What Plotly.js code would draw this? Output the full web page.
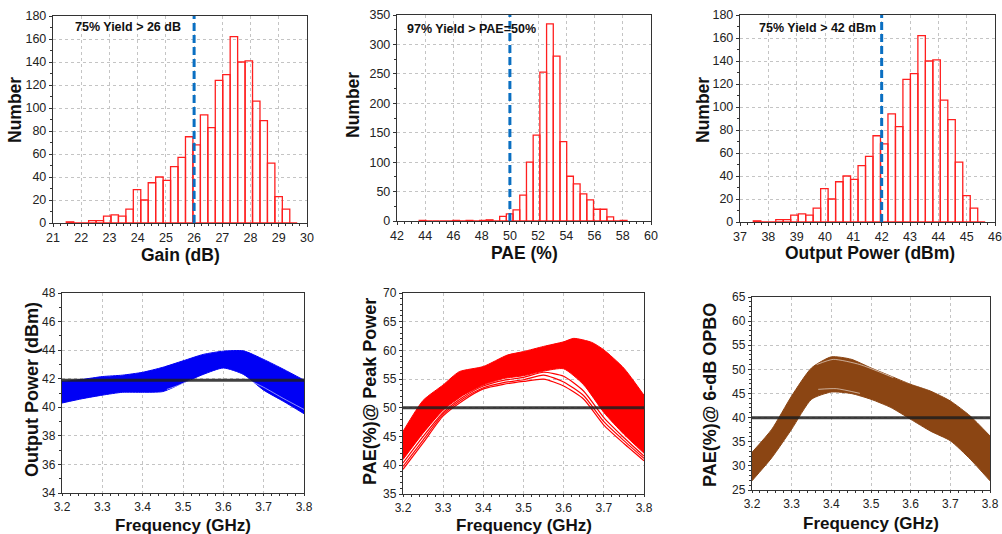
<!DOCTYPE html>
<html><head><meta charset="utf-8">
<script src="https://cdn.plot.ly/plotly-3.0.1.min.js"></script>
<style>html,body{margin:0;padding:0;background:#fff}#chart{width:1002px;height:534px}</style>
</head><body><div id="chart"></div>
<script>
// ---------- Histogram data ----------
const gainBinStart = 21.47;
const gainBinWidth = 0.264;
const gainCounts = [1,0,0,2,2,6,7,6,12,29,20,35,40,37,49,57,75,68,94,83,124,129,162,140,141,106,89,52,23,12,0];

const paeBinStart = 43.575;
const paeBinWidth = 0.475;
const paeCounts = [1,0,0,0,0,1,0,1,0,1,2,0,8,12,19,44,100,146,253,335,280,135,76,63,46,36,20,20,7,0,1];

const poutBinStart = 37.47;
const poutBinWidth = 0.264;
const poutCounts = [1,0,0,2,2,6,7,6,12,29,20,35,40,37,49,57,75,68,94,83,124,129,162,140,141,106,89,52,23,12,0];

const yieldLimits = [26, 50, 42];
const yieldLabels = ['75% Yield > 26 dB', '97% Yield > PAE=50%', '75% Yield > 42 dBm'];

// axis titles
const xTitles = ['Gain (dB)', 'PAE (%)', 'Output Power (dBm)', 'Frequency (GHz)', 'Frequency (GHz)', 'Frequency (GHz)'];
const yTitles = ['Number', 'Number', 'Number', 'Output Power (dBm)', 'PAE(%)@ Peak Power', 'PAE(%)@ 6-dB OPBO'];

// ---------- Frequency sweep data ----------
const freq = [3.2,3.25,3.3,3.35,3.4,3.45,3.5,3.55,3.6,3.65,3.7,3.75,3.8];

const poutUpper = [41.8,41.95,42.15,42.25,42.45,42.8,43.25,43.7,43.93,43.95,43.35,42.65,41.9];
const poutLower = [40.3,40.6,40.85,41.05,41.05,41.1,41.7,42.3,42.75,42.3,41.2,40.4,39.55];
const poutStreakAFreq = [3.46,3.49,3.52];
const poutStreakA = [41.25,41.55,41.95];
const poutStreakBFreq = [3.64,3.7,3.75,3.8];
const poutStreakB = [42.2,41.4,40.6,39.85];

const paeUpperFreq = [3.2,3.25,3.3,3.34,3.4,3.46,3.5,3.55,3.6,3.625,3.67,3.7,3.75,3.8];
const paeUpper = [45.9,51.3,54.0,56.3,57.2,59.2,59.8,60.7,61.5,62.1,61.4,60.1,56.9,52.2];
const paeMainLower = [41.0,45.6,49.6,52.2,54.0,55.1,55.6,56.4,56.8,54.0,49.2,45.4,42.1];
const paeOutlier1 = [39.3,43.9,48.6,51.3,53.3,54.1,54.6,55.0,53.8,51.5,47.0,43.8,40.8];
const paeOutlier2 = [39.8,44.4,48.9,51.6,53.5,54.4,54.9,55.7,54.5,52.1,47.6,44.3,41.2];
const paeOutlier3 = [40.4,45.0,49.2,51.9,53.8,54.8,55.3,56.2,55.5,52.9,48.3,44.8,41.6];

const opboUpper = [32.8,37.6,44.5,50.3,52.6,52.1,50.3,48.6,46.9,45.5,43.45,40.35,36.2];
const opboLower = [26.9,31.7,37.6,43.8,45.3,45.0,43.8,42.1,39.65,37.2,35.2,31.4,26.9];
const opboStreakAFreq = [3.363,3.405,3.472,3.556];
const opboStreakA = [51.0,52.07,51.0,48.3];
const opboStreakBFreq = [3.367,3.413,3.472];
const opboStreakB = [45.86,46.0,45.03];

const refLevels = [41.9, 50, 40];

// ---------- Build traces ----------
const HIST_RED = '#ff1f1f';
function histTrace(start, width, counts, xa, ya) {
  return {
    type: 'bar', xaxis: xa, yaxis: ya,
    x: counts.map((_, i) => start + (i + 0.5) * width),
    y: counts,
    width: counts.map(() => width),
    marker: {color: 'rgba(0,0,0,0)', line: {color: HIST_RED, width: 1.3}},
    hoverinfo: 'skip', showlegend: false
  };
}
function yieldLine(lim, ymax, xa, ya) {
  return {type: 'scatter', mode: 'lines', xaxis: xa, yaxis: ya,
    x: [lim, lim], y: [0, ymax],
    line: {color: '#0a6fc2', width: 3, dash: '8px,4px'}, hoverinfo: 'skip', showlegend: false};
}
function band(xl, lower, xu, upper, color, xa, ya) {
  return [
    {type: 'scatter', mode: 'lines', xaxis: xa, yaxis: ya, x: xl, y: lower,
      line: {color: color, width: 1, shape: 'spline', smoothing: 0.6}, hoverinfo: 'skip', showlegend: false},
    {type: 'scatter', mode: 'lines', xaxis: xa, yaxis: ya, x: xu, y: upper, fill: 'tonexty', fillcolor: color,
      line: {color: color, width: 1, shape: 'spline', smoothing: 0.6}, hoverinfo: 'skip', showlegend: false}
  ];
}
function curve(x, y, color, w, op, xa, ya) {
  return {type: 'scatter', mode: 'lines', xaxis: xa, yaxis: ya, x: x, y: y, opacity: op,
    line: {color: color, width: w, shape: 'spline', smoothing: 0.6}, hoverinfo: 'skip', showlegend: false};
}
function refLine(level, xa, ya) {
  return {type: 'scatter', mode: 'lines', xaxis: xa, yaxis: ya,
    x: [freq[0], freq[freq.length - 1]], y: [level, level],
    line: {color: 'rgba(30,30,30,0.85)', width: 3}, hoverinfo: 'skip', showlegend: false};
}

const BLUE = '#0000f5', RED = '#ff0000', BROWN = '#8b4513';
const traces = [
  histTrace(gainBinStart, gainBinWidth, gainCounts, 'x', 'y'),
  yieldLine(yieldLimits[0], 180, 'x', 'y'),
  histTrace(paeBinStart, paeBinWidth, paeCounts, 'x2', 'y2'),
  yieldLine(yieldLimits[1], 350, 'x2', 'y2'),
  histTrace(poutBinStart, poutBinWidth, poutCounts, 'x3', 'y3'),
  yieldLine(yieldLimits[2], 180, 'x3', 'y3'),

  ...band(freq, poutLower, freq, poutUpper, BLUE, 'x4', 'y4'),
  curve(poutStreakAFreq, poutStreakA, '#ffffff', 0.8, 0.7, 'x4', 'y4'),
  curve(poutStreakBFreq, poutStreakB, '#ffffff', 0.8, 0.7, 'x4', 'y4'),
  refLine(refLevels[0], 'x4', 'y4'),

  ...band(freq, paeMainLower, paeUpperFreq, paeUpper, RED, 'x5', 'y5'),
  curve(freq, paeOutlier1, RED, 1.2, 1, 'x5', 'y5'),
  curve(freq, paeOutlier2, RED, 1.2, 1, 'x5', 'y5'),
  curve(freq, paeOutlier3, RED, 1.2, 1, 'x5', 'y5'),
  refLine(refLevels[1], 'x5', 'y5'),

  ...band(freq, opboLower, freq, opboUpper, BROWN, 'x6', 'y6'),
  curve(opboStreakAFreq, opboStreakA, '#ffffff', 0.8, 0.7, 'x6', 'y6'),
  curve(opboStreakBFreq, opboStreakB, '#ffffff', 0.8, 0.7, 'x6', 'y6'),
  refLine(refLevels[2], 'x6', 'y6')
];

// ---------- Layout ----------
const FONT = 'Liberation Sans, Arial, sans-serif';
const W = 1002, H = 534;
function dx(a, b) { return [a / W, b / W]; }
function dy(top, bottom) { return [1 - bottom / H, 1 - top / H]; }
function ax(extra, fs, tl) {
  return Object.assign({
    showline: true, mirror: true, linecolor: '#333', linewidth: 1.2,
    ticks: 'outside', ticklen: tl || 3, tickcolor: '#333', tickwidth: 1,
    showgrid: true, gridcolor: '#c4c4c4', griddash: 'dot', gridwidth: 1,
    zeroline: false, fixedrange: true,
    tickfont: {family: FONT, size: fs || 12.5, color: '#222'}
  }, extra);
}
function mn(d) { return {ticks: 'outside', ticklen: 2, tickcolor: '#333', dtick: d, showgrid: false}; }

// title positions (paper px)
const xTitlePos = [[180, 255], [524, 253], [870, 253], [183, 525], [524, 525], [871, 523]];
const yTitlePos = [[15, 110], [353, 105], [703, 110], [32, 390], [370, 392], [710, 395]];

const annotations = [
  {xref: 'x domain', yref: 'y domain', x: 0.079, y: 0.947, xanchor: 'left', yanchor: 'middle', showarrow: false,
    text: '<b>' + yieldLabels[0] + '</b>', font: {family: FONT, size: 12.5, color: '#111'}},
  {xref: 'x2 domain', yref: 'y2 domain', x: 0.031, y: 0.932, xanchor: 'left', yanchor: 'middle', showarrow: false,
    text: '<b>' + yieldLabels[1] + '</b>', font: {family: FONT, size: 12.5, color: '#111'}},
  {xref: 'x3 domain', yref: 'y3 domain', x: 0.067, y: 0.937, xanchor: 'left', yanchor: 'middle', showarrow: false,
    text: '<b>' + yieldLabels[2] + '</b>', font: {family: FONT, size: 12.5, color: '#111'}}
];
xTitles.forEach((t, i) => annotations.push({
  xref: 'paper', yref: 'paper', x: xTitlePos[i][0] / W, y: 1 - xTitlePos[i][1] / H,
  xanchor: 'center', yanchor: 'middle', showarrow: false, borderpad: 0,
  text: '<b>' + t + '</b>', font: {family: FONT, size: i < 3 ? 17.5 : 17, color: '#111'}
}));
yTitles.forEach((t, i) => annotations.push({
  xref: 'paper', yref: 'paper', x: yTitlePos[i][0] / W, y: 1 - yTitlePos[i][1] / H,
  xanchor: 'center', yanchor: 'middle', showarrow: false, textangle: -90,
  text: '<b>' + t + '</b>', font: {family: FONT, size: i < 3 ? 17.5 : 18, color: '#111'}
}));

const layout = {
  width: W, height: H, margin: {l: 0, r: 0, t: 0, b: 0},
  paper_bgcolor: '#fff', plot_bgcolor: '#fff', showlegend: false, barmode: 'overlay',
  xaxis: ax({domain: dx(53, 307), anchor: 'y', range: [21, 30], dtick: 1, minor: mn(0.25)}),
  yaxis: ax({domain: dy(16, 223), anchor: 'x', range: [0, 180], dtick: 20, minor: mn(10)}),
  xaxis2: ax({domain: dx(397, 651), anchor: 'y2', range: [42, 60], dtick: 2, minor: mn(0.5)}),
  yaxis2: ax({domain: dy(15, 221), anchor: 'x2', range: [0, 350], dtick: 50, minor: mn(25)}),
  xaxis3: ax({domain: dx(740, 995), anchor: 'y3', range: [37, 46], dtick: 1, minor: mn(0.25)}),
  yaxis3: ax({domain: dy(15, 222), anchor: 'x3', range: [0, 180], dtick: 20, minor: mn(10)}),
  xaxis4: ax({domain: dx(62, 304), anchor: 'y4', range: [3.2, 3.8], dtick: 0.1, tickformat: '.1f', minor: mn(0.02)}, 12, 2),
  yaxis4: ax({domain: dy(293, 493), anchor: 'x4', range: [34, 48], dtick: 2, minor: mn(1)}, 12),
  xaxis5: ax({domain: dx(403, 644), anchor: 'y5', range: [3.2, 3.8], dtick: 0.1, tickformat: '.1f', minor: mn(0.02)}, 12, 2),
  yaxis5: ax({domain: dy(293, 494), anchor: 'x5', range: [35, 70], dtick: 5, minor: mn(1)}, 12),
  xaxis6: ax({domain: dx(752, 990), anchor: 'y6', range: [3.2, 3.8], dtick: 0.1, tickformat: '.1f', minor: mn(0.02)}, 12, 2),
  yaxis6: ax({domain: dy(297, 490), anchor: 'x6', range: [25, 65], dtick: 5, minor: mn(1)}, 12),
  annotations: annotations
};

Plotly.newPlot('chart', traces, layout, {staticPlot: true, displayModeBar: false});
</script>
</body></html>
